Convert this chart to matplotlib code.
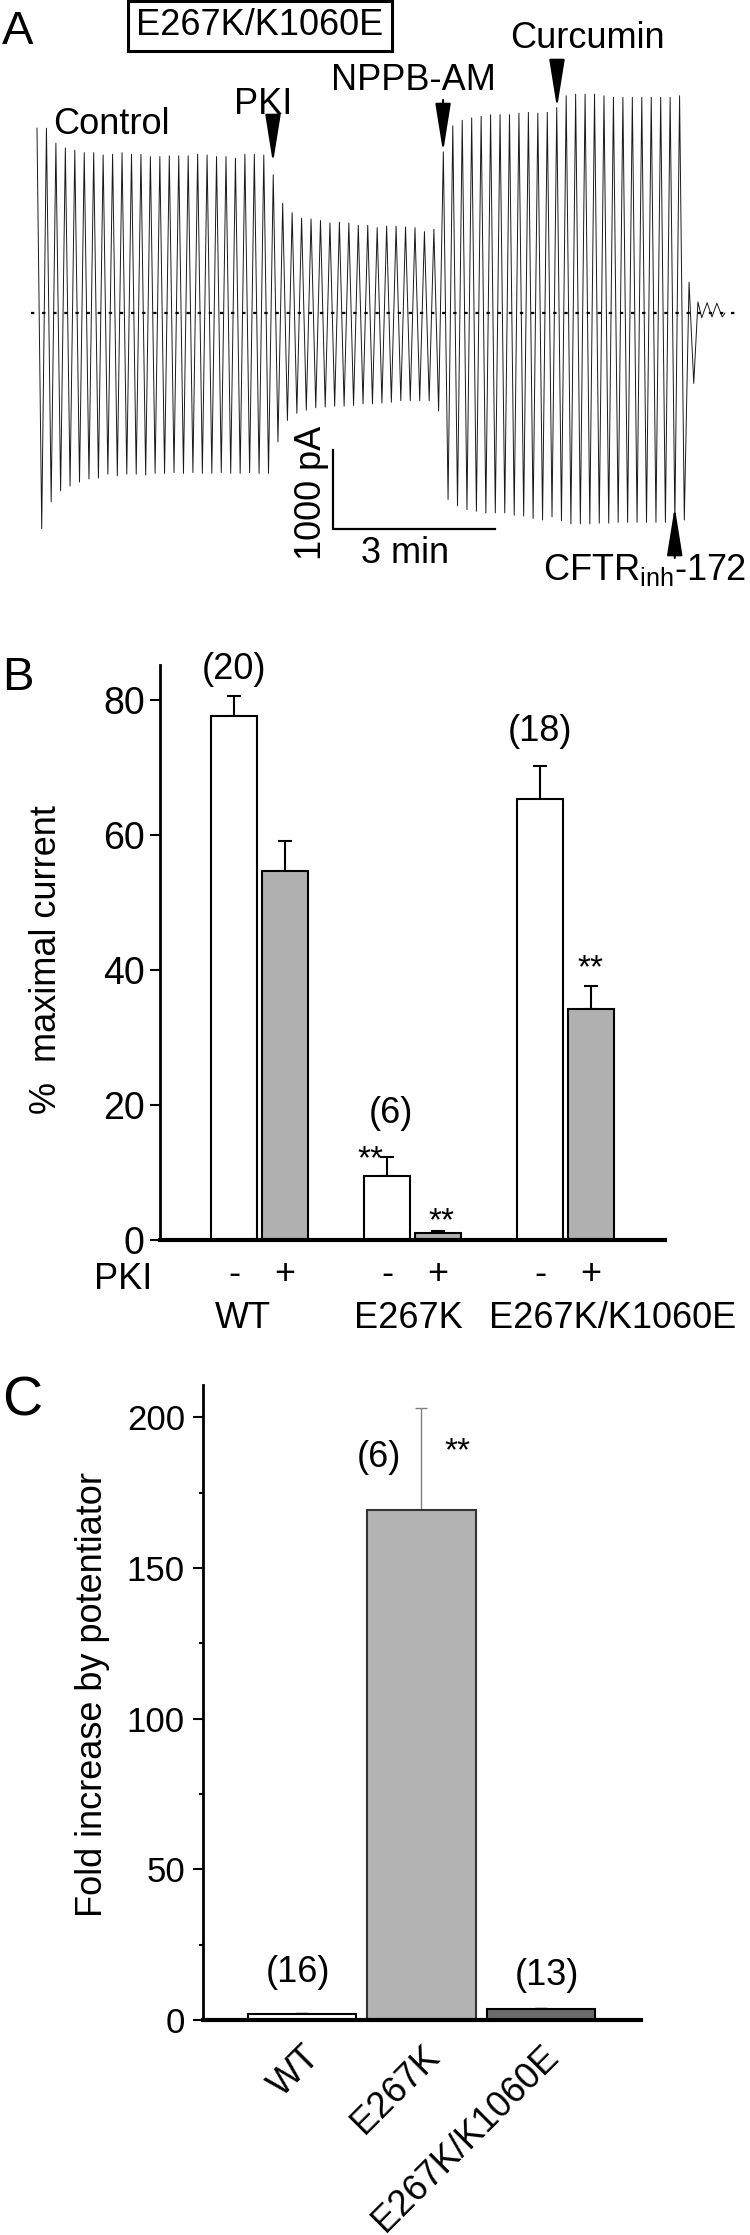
import numpy as np
import matplotlib
matplotlib.use('Agg')
import matplotlib.pyplot as plt
from matplotlib.ticker import MultipleLocator

plt.rcParams['font.family'] = ['Liberation Sans', 'DejaVu Sans']
plt.rcParams['mathtext.fontset'] = 'custom'
plt.rcParams['mathtext.rm'] = 'Liberation Sans'
plt.rcParams['mathtext.it'] = 'Liberation Sans:italic'

# ---------------- panel A: current trace, one ramp sweep every ~10 s
sweep_min = 0.175  # minutes between sweeps
peak_pA = [2340, 2340, 2150, 2090, 2060, 2030, 2030, 2000, 2010, 2030, 2010, 2010, 1980,
           1980, 1990, 1990, 1990, 2010, 2000, 1980, 1980, 1960, 2010, 2010, 2000, 1750,
           # PKI
           1390, 1270, 1200, 1190, 1170, 1140, 1150, 1140, 1110, 1110, 1080, 1100, 1100,
           1090, 1080, 1030, 1060,
           # NPPB-AM
           2040, 2370, 2440, 2470, 2490, 2510, 2510, 2510, 2530, 2540, 2530, 2540,
           # curcumin
           2600, 2750, 2770, 2770, 2770, 2750, 2730, 2730, 2730, 2730, 2730, 2730, 2730, 2750,
           # CFTRinh-172
           390]
trough_pA = [-2730, -2390, -2250, -2190, -2140, -2100, -2090, -2040, -2060, -2040, -2040,
             -2050, -2030, -2030, -2020, -2030, -2020, -2030, -2030, -2020, -2030, -2030,
             -2020, -2030, -2030, -1630,
             -1360, -1270, -1230, -1200, -1190, -1180, -1180, -1170, -1150, -1150, -1140,
             -1130, -1110, -1110, -1110, -1110, -1240,
             -2360, -2440, -2490, -2510, -2530, -2530, -2530, -2560, -2570, -2600, -2620, -2580,
             -2630, -2670, -2670, -2670, -2660, -2660, -2650, -2650, -2650, -2650, -2650,
             -2650, -2650, -2620,
             -890]
tail_min = [12.24, 12.31, 12.41, 12.50, 12.59, 12.69, 12.74]
tail_pA = [140, -60, 130, -50, 125, -50, 0]

# ---------------- panel B
b_pos = [0, 1, 3, 4, 6, 7]
b_mean = [77.6, 54.7, 9.5, 1.0, 65.3, 34.2]
b_sem = [3.0, 4.4, 2.8, 0.4, 5.0, 3.4]
b_pki = ['-', '+', '-', '+', '-', '+']
b_groups = ['WT', 'E267K', 'E267K/K1060E']
b_n = ['(20)', '(6)', '(18)']

# ---------------- panel C
c_groups = ['WT', 'E267K', 'E267K/K1060E']
c_mean = [2.0, 169.2, 3.6]
c_sem = [0.2, 33.8, 0.4]
c_n = ['(16)', '(6)', '(13)']

W, H = 750, 2235
FS = 26
fig = plt.figure(figsize=(W / 100, H / 100), dpi=100)


def box(x0, y0, x1, y1):
    # pixel box (top-left origin) -> figure fraction rect
    return [x0 / W, 1 - y1 / H, (x1 - x0) / W, (y1 - y0) / H]


# ================= A
axa = fig.add_axes(box(0, 0, 750, 640))
axa.set_xlim(-0.685, 13.204)
axa.set_ylim(-4139, 3962)
axa.axis('off')

n = len(peak_pA)
t_peak = np.arange(n) * sweep_min
t_trough = t_peak + sweep_min / 2
t = np.concatenate([np.column_stack([t_peak, t_trough]).ravel(), tail_min])
cur = np.concatenate([np.column_stack([peak_pA, trough_pA]).ravel(), tail_pA])
axa.plot(t, cur, color='#1a1a1a', lw=0.7)
axa.plot([-0.11, 12.96], [0, 0], color='black', lw=1.6, ls=(0, (1.5, 3.5)))

# scale bars 1000 pA / 3 min
axa.plot([5.48, 5.48, 8.48], [-1734, -2734, -2734], color='black', lw=1.6,
         solid_joinstyle='miter')
axa.text(5.26, -2278, '1000 pA', rotation=90, rotation_mode='anchor',
         ha='center', va='baseline', fontsize=FS)
axa.text(6.81, -3038, '3 min', ha='center', va='center', fontsize=FS)

arrow = dict(arrowstyle='-|>,head_length=1.5,head_width=0.24', color='black',
             lw=1.5, shrinkA=0, shrinkB=0, mutation_scale=20)
axa.annotate('', xy=(4.37, 1899), xytext=(4.37, 2481), arrowprops=arrow)
axa.annotate('', xy=(7.52, 2038), xytext=(7.52, 2696), arrowprops=arrow)
axa.annotate('', xy=(9.63, 2595), xytext=(9.63, 3203), arrowprops=arrow)
axa.annotate('', xy=(11.81, -2456), xytext=(11.81, -3101), arrowprops=arrow)

axa.text(1.37, 2392, 'Control', ha='center', va='center', fontsize=FS)
axa.text(4.19, 2633, 'PKI', ha='center', va='center', fontsize=FS)
axa.text(6.98, 2937, 'NPPB-AM', ha='center', va='center', fontsize=FS)
axa.text(10.19, 3481, 'Curcumin', ha='center', va='center', fontsize=FS)
axa.text(13.14, -3380, r'CFTR$_{\rm inh}$-172', ha='right', va='baseline', fontsize=FS)
axa.text(4.13, 3633, 'E267K/K1060E', ha='center', va='center', fontsize=FS,
         bbox=dict(boxstyle='square,pad=0.22', fc='white', ec='black', lw=2.2))

fig.text(2 / W, 1 - 44 / H, 'A', fontsize=34, va='baseline')
fig.text(2 / W, 1 - 690 / H, 'B', fontsize=34, va='baseline')
fig.text(2 / W, 1 - 1416 / H, 'C', fontsize=40, va='baseline')

# ================= B
axb = fig.add_axes(box(160, 665, 665, 1240))
b_colors = ['white', '#b0b0b0'] * 3
axb.errorbar(b_pos, b_mean, yerr=[np.zeros(len(b_sem)), b_sem], fmt='none',
             ecolor='black', elinewidth=1.5, capsize=5, capthick=1.5, zorder=1)
axb.bar(b_pos, b_mean, width=0.9, color=b_colors, edgecolor='black', lw=1.5, zorder=2)
axb.set_xlim(-1.45, 8.45)
axb.set_ylim(0, 85.2)
axb.set_yticks([0, 20, 40, 60, 80])
axb.set_xticks(b_pos)
axb.set_xticklabels(b_pki)
axb.tick_params(axis='y', direction='out', length=7, width=1.5, labelsize=27, pad=4)
axb.tick_params(axis='x', length=0, labelsize=FS, pad=12)
for s in ['top', 'right']:
    axb.spines[s].set_visible(False)
axb.spines['left'].set_linewidth(2)
axb.spines['bottom'].set_linewidth(3)
axb.set_ylabel('%  maximal current', fontsize=26)
axb.yaxis.set_label_coords(-0.19, 0.487)

axb.text(-2.18, -5.8, 'PKI', ha='center', va='center', fontsize=FS, clip_on=False)
for x, lab in zip([0.18, 3.41, 7.43], b_groups):
    axb.text(x, -11.6, lab, ha='center', va='center', fontsize=FS, clip_on=False)
for (x, y), lab in zip([(0, 84.6), (3.08, 18.8), (6.0, 75.3)], b_n):
    axb.text(x, y, lab, ha='center', va='center', fontsize=FS, clip_on=False)
for x, y in [(2.67, 10.7), (4.06, 1.5), (6.98, 38.9)]:
    axb.text(x, y, '**', ha='center', va='baseline', fontsize=24)

# ================= C
axc = fig.add_axes(box(203, 1385, 641, 2020))
c_pos = np.arange(len(c_mean))
c_fill = ['white', '#b3b3b3', '#6b6b6b']
c_edge = ['black', '#333333', 'black']
c_err = ['black', '#808080', 'black']
for i in range(len(c_mean)):
    axc.errorbar(c_pos[i], c_mean[i], yerr=[[0], [c_sem[i]]], fmt='none',
                 ecolor=c_err[i], elinewidth=1, capsize=4, capthick=1, zorder=1)
axc.bar(c_pos, c_mean, width=0.91, color=c_fill, edgecolor=c_edge, lw=1.5, zorder=2)
axc.set_xlim(-0.828, 2.837)
axc.set_ylim(0, 210.7)
axc.yaxis.set_major_locator(MultipleLocator(50))
axc.yaxis.set_minor_locator(MultipleLocator(25))
axc.set_xticks(c_pos)
axc.set_xticklabels(c_groups, rotation=45, ha='right', rotation_mode='anchor')
axc.tick_params(axis='y', which='major', direction='out', length=7, width=1.5,
                labelsize=25, pad=6)
axc.tick_params(axis='y', which='minor', direction='out', length=3, width=1.5)
axc.tick_params(axis='x', length=0, labelsize=FS, pad=14)
for s in ['top', 'right']:
    axc.spines[s].set_visible(False)
axc.spines['left'].set_linewidth(2)
axc.spines['bottom'].set_linewidth(3)
axc.set_ylabel('Fold increase by potentiator', fontsize=26)
axc.yaxis.set_label_coords(-0.212, 0.513)

for (x, y), lab in zip([(-0.03, 15.6), (0.64, 186.5), (2.05, 14.9)], c_n):
    axc.text(x, y, lab, ha='center', va='center', fontsize=FS, clip_on=False)
axc.text(1.30, 185.8, '**', ha='center', va='baseline', fontsize=24)

fig.savefig('out.png', dpi=100)
